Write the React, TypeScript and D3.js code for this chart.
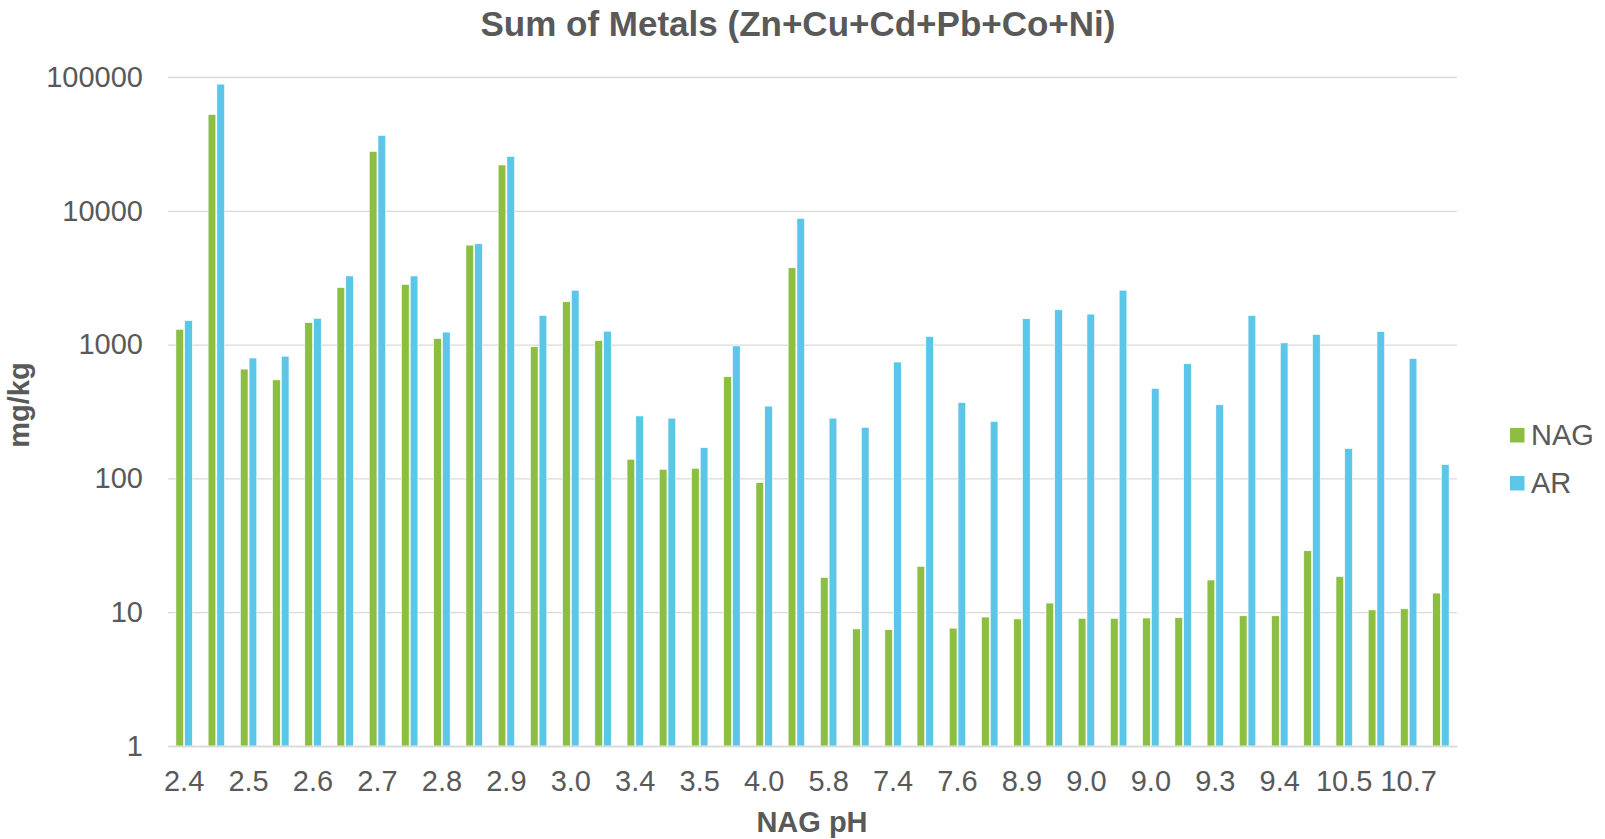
import React, { useEffect, useRef } from 'react'
import * as d3 from 'd3'

// NAG pH for every sample (Excel only shows every other label)
const categories = [
  '2.4', '2.4', '2.5', '2.5', '2.6', '2.6', '2.7', '2.7', '2.8', '2.8',
  '2.9', '2.9', '3.0', '3.2', '3.4', '3.4', '3.5', '3.7', '4.0', '4.6',
  '5.8', '6.8', '7.4', '7.5', '7.6', '8.5', '8.9', '8.9', '9.0', '9.0',
  '9.0', '9.1', '9.3', '9.3', '9.4', '10.1', '10.5', '10.6', '10.7', '10.9',
]

// mg/kg
const nagValues = [
  1300, 52500, 656, 545, 1460, 2670, 27800, 2820, 1110, 5540,
  22000, 963, 2090, 1070, 139, 117, 119, 575, 93, 3750,
  18.2, 7.5, 7.4, 22, 7.6, 9.2, 8.9, 11.7, 9.0, 9.0,
  9.05, 9.1, 17.4, 9.4, 9.4, 28.8, 18.5, 10.4, 10.6, 13.9,
]
const arValues = [
  1510, 88500, 794, 819, 1570, 3260, 36600, 3260, 1240, 5670,
  25500, 1650, 2550, 1260, 293, 282, 170, 977, 347, 8780,
  282, 241, 741, 1150, 369, 267, 1560, 1820, 1690, 2550,
  471, 719, 355, 1650, 1030, 1190, 167, 1250, 788, 127,
]

const seriesNames = ['NAG', 'AR']
const seriesColors = ['#8cbe42', '#5cc6e9']
const yTicks = [1, 10, 100, 1000, 10000, 100000]

const FONT = '"Liberation Sans", Arial, sans-serif'
const TEXT = '#595959'
const GRID = '#d9d9d9'

const App = () => {
  const ref = useRef<SVGGElement | null>(null)

  useEffect(() => {
    const g = d3.select(ref.current)
    g.selectAll('*').remove()

    const width = 1605
    const height = 839
    const margin = { top: 77, right: 148, bottom: 93, left: 168 }
    const innerWidth = width - margin.left - margin.right
    const innerHeight = height - margin.top - margin.bottom

    const idx = categories.map((_, i) => i)

    const x0 = d3.scaleBand<number>()
      .domain(idx)
      .range([0, innerWidth])
      .paddingInner(0.49)
      .paddingOuter(0.245)

    const x1 = d3.scaleBand<number>()
      .domain([0, 1])
      .range([0, x0.bandwidth()])
      .paddingInner(0.12)

    const y = d3.scaleLog()
      .domain([1, 100000])
      .range([innerHeight, 0])

    const plot = g.append('g')
      .attr('transform', `translate(${margin.left}, ${margin.top})`)

    // gridlines + y labels
    const yAxisG = plot.append('g')
      .call(d3.axisLeft(y)
        .tickValues(yTicks)
        .tickSize(-innerWidth)
        .tickPadding(25)
        .tickFormat(d => d3.format('d')(d as number)))
    yAxisG.select('.domain').remove()
    yAxisG.selectAll('line').attr('stroke', GRID).attr('stroke-width', 1.3)
    yAxisG.selectAll('text')
      .attr('font-size', 29)
      .attr('font-family', FONT)
      .attr('fill', TEXT)

    // bars
    const values = [nagValues, arValues]
    const groups = plot.append('g')
      .selectAll('g')
      .data(idx)
      .enter().append('g')
      .attr('transform', d => `translate(${x0(d)}, 0)`)

    groups.selectAll('rect')
      .data(i => values.map((vals, s) => ({ s, v: vals[i] })))
      .enter().append('rect')
      .attr('x', d => x1(d.s) as number)
      .attr('y', d => y(d.v))
      .attr('width', x1.bandwidth())
      .attr('height', d => innerHeight - y(d.v))
      .attr('fill', d => seriesColors[d.s])
      .attr('stroke', '#ffffff')
      .attr('stroke-width', 0.6)

    // x axis
    const xAxisG = plot.append('g')
      .attr('transform', `translate(0, ${innerHeight})`)
      .call(d3.axisBottom(x0)
        .tickValues(idx.filter(i => i % 2 === 0))
        .tickSize(0)
        .tickPadding(24)
        .tickFormat(i => categories[i as number]))
    xAxisG.select('.domain').attr('stroke', GRID).attr('stroke-width', 1.5)
    xAxisG.selectAll('text')
      .attr('font-size', 29)
      .attr('font-family', FONT)
      .attr('fill', TEXT)

    // titles
    g.append('text')
      .attr('x', 798)
      .attr('y', 36)
      .attr('text-anchor', 'middle')
      .attr('font-family', FONT)
      .attr('font-size', 35)
      .attr('font-weight', 'bold')
      .attr('fill', TEXT)
      .text('Sum of Metals (Zn+Cu+Cd+Pb+Co+Ni)')

    g.append('text')
      .attr('x', 812)
      .attr('y', 832)
      .attr('text-anchor', 'middle')
      .attr('font-family', FONT)
      .attr('font-size', 29)
      .attr('font-weight', 'bold')
      .attr('fill', TEXT)
      .text('NAG pH')

    g.append('text')
      .attr('transform', 'translate(29, 405) rotate(-90)')
      .attr('text-anchor', 'middle')
      .attr('font-family', FONT)
      .attr('font-size', 29)
      .attr('font-weight', 'bold')
      .attr('fill', TEXT)
      .text('mg/kg')

    // legend
    const legend = g.append('g')
      .attr('transform', 'translate(1510, 428)')
    seriesNames.forEach((name, i) => {
      legend.append('rect')
        .attr('x', 0)
        .attr('y', i * 48)
        .attr('width', 14.5)
        .attr('height', 14.5)
        .attr('fill', seriesColors[i])
      legend.append('text')
        .attr('x', 21)
        .attr('y', i * 48 + 17)
        .attr('font-family', FONT)
        .attr('font-size', 29)
        .attr('fill', TEXT)
        .text(name)
    })
  }, [])

  return (
    <div style={{ position: 'absolute', left: 0, top: 0 }}>
      <svg width={1605} height={839} style={{ display: 'block', background: '#fff' }}>
        <g ref={ref} />
      </svg>
    </div>
  )
}

export default App
